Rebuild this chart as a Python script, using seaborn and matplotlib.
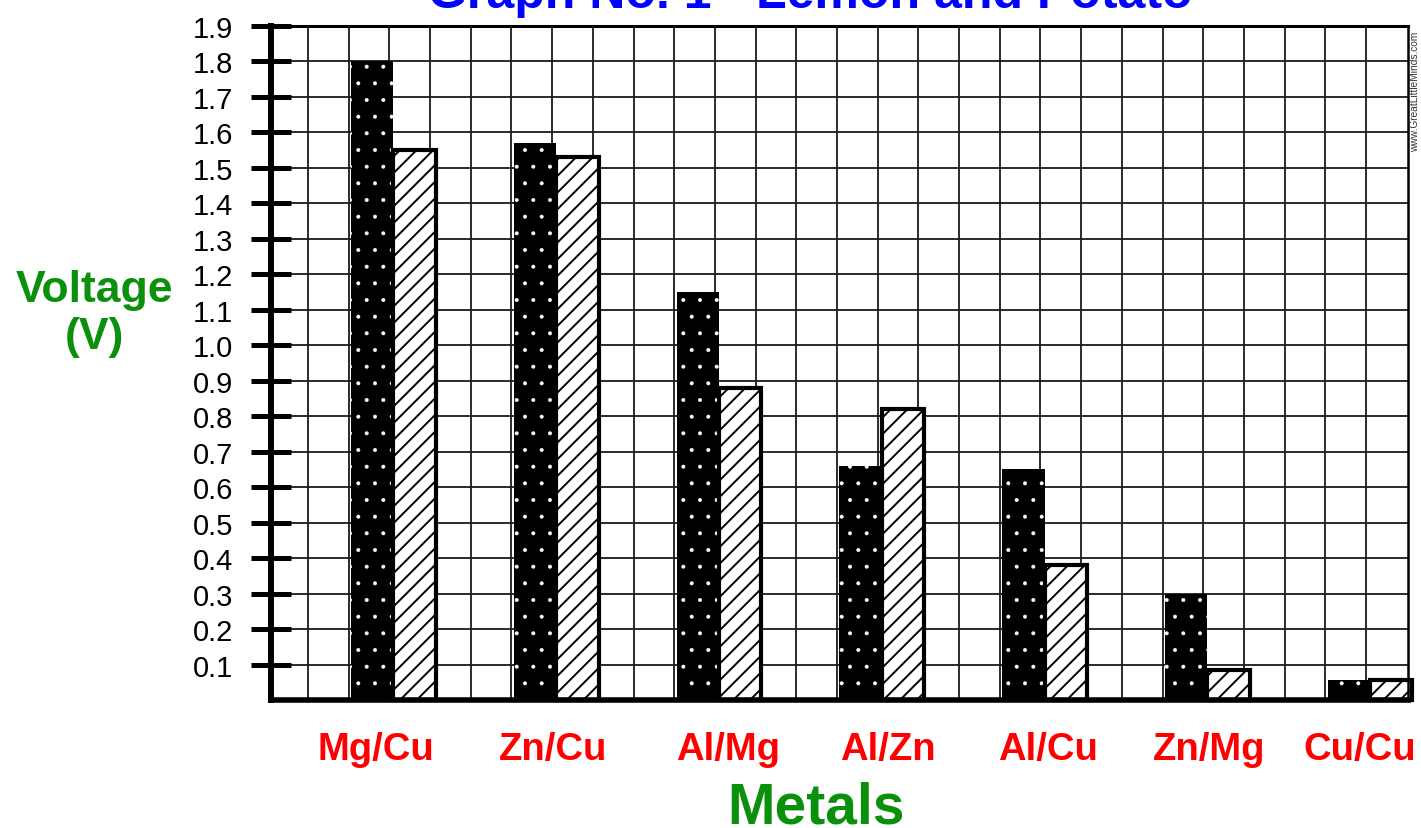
import matplotlib
matplotlib.use('Agg')
import matplotlib.pyplot as plt
import matplotlib.transforms as mtransforms
import seaborn as sns
import pandas as pd
import numpy as np

# ---- data ----
metals = ["Mg/Cu", "Zn/Cu", "Al/Mg", "Al/Zn", "Al/Cu", "Zn/Mg", "Cu/Cu"]
lemon = [1.80, 1.57, 1.15, 0.66, 0.65, 0.30, 0.055]
potato = [1.55, 1.53, 0.88, 0.82, 0.38, 0.085, 0.055]
series_names = ["Lemon", "Potato"]
y_ticks = [0.1, 0.2, 0.3, 0.4, 0.5, 0.6, 0.7, 0.8, 0.9, 1.0,
           1.1, 1.2, 1.3, 1.4, 1.5, 1.6, 1.7, 1.8, 1.9]
y_tick_labels = ["0.1", "0.2", "0.3", "0.4", "0.5", "0.6", "0.7", "0.8", "0.9", "1.0",
                 "1.1", "1.2", "1.3", "1.4", "1.5", "1.6", "1.7", "1.8", "1.9"]
title = "Graph No. 1 - Lemon and Potato"

# ---- layout/style (pixel nudges for x tick labels) ----
label_nudge_px = [-18, -3, 9, 6, 3, 2, -10]

sns.set_style("white")
plt.rcParams['font.family'] = ['Liberation Sans', 'DejaVu Sans']
plt.rcParams['hatch.linewidth'] = 1.4

df = pd.DataFrame({
    "Metals": metals * 2,
    "Voltage": lemon + potato,
    "Fruit": [series_names[0]] * len(metals) + [series_names[1]] * len(metals),
})

W, H = 1421, 829
fig = plt.figure(figsize=(W / 100, H / 100), dpi=100)
ax = fig.add_axes([271 / W, 1 - 701 / H, (1408 - 271) / W, (701 - 27) / H])

sns.barplot(data=df, x="Metals", y="Voltage", hue="Fruit", order=metals,
            hue_order=series_names, palette={"Lemon": "black", "Potato": "white"},
            width=0.52, gap=0, dodge=True, errorbar=None, legend=False, ax=ax,
            zorder=3)

for p in ax.patches:
    fc = p.get_facecolor()
    if fc[0] < 0.5:
        p.set_edgecolor("white")
        p.set_linewidth(0)
        p.set_hatch(".")
        if hasattr(p, "set_hatch_linewidth"):
            p.set_hatch_linewidth(0.4)
    else:
        p.set_edgecolor("black")
        p.set_linewidth(3.0)
        p.set_hatch("//")
        if hasattr(p, "set_hatch_linewidth"):
            p.set_hatch_linewidth(1.4)
    p.set_zorder(3)
    p.set_clip_on(False)

shift = 0.025
ax.set_xlim(-0.752, 6.233)
ax.set_ylim(0, 1.9)
ax.set_xticks(np.arange(-0.5, 6.01, 0.25) - shift, minor=True)
ax.set_yticks(y_ticks)
ax.set_yticklabels(y_tick_labels)
ax.set_axisbelow(True)
ax.grid(False)
ax.grid(which="minor", axis="x", color="#1a1a1a", lw=1.3, zorder=0)
ax.grid(which="major", axis="y", color="#1a1a1a", lw=1.3, zorder=0)

ax.tick_params(axis="y", which="major", direction="inout", length=29, width=3.6,
               pad=13, labelsize=21, color="black", labelcolor="black", left=True)
ax.tick_params(axis="x", which="both", length=0, pad=22, labelsize=27.5, labelcolor="#ff0000")
for lab, dx in zip(ax.get_xticklabels(), label_nudge_px):
    lab.set_fontweight("bold")
    lab.set_transform(lab.get_transform() +
                      mtransforms.ScaledTranslation(dx / 100, 0, fig.dpi_scale_trans))

ax.set_xlabel("")
ax.set_ylabel("")

for side, lw in (("left", 4.3), ("bottom", 4.0), ("top", 2.2), ("right", 1.8)):
    ax.spines[side].set_visible(True)
    ax.spines[side].set_color("black")
    ax.spines[side].set_linewidth(lw)
    ax.spines[side].set_zorder(4)

fig.text(810 / W, 1 - 8 / H, title, ha="center", va="baseline", color="#0000ff",
         fontsize=36, fontweight="bold")
fig.text(816 / W, 1 - 824 / H, "Metals", ha="center", va="baseline", color="#0a900a",
         fontsize=41, fontweight="bold")
fig.text(94 / W, 1 - 314 / H, "Voltage\n(V)", ha="center", va="center", color="#0a900a",
         fontsize=32, fontweight="bold", linespacing=1.2)
fig.text(1415 / W, 1 - 92 / H, "www.GreatLittleMinds.com", rotation=90, fontsize=7.3,
         ha="center", va="center", color="#333333")

fig.savefig("out.png", dpi=100)
